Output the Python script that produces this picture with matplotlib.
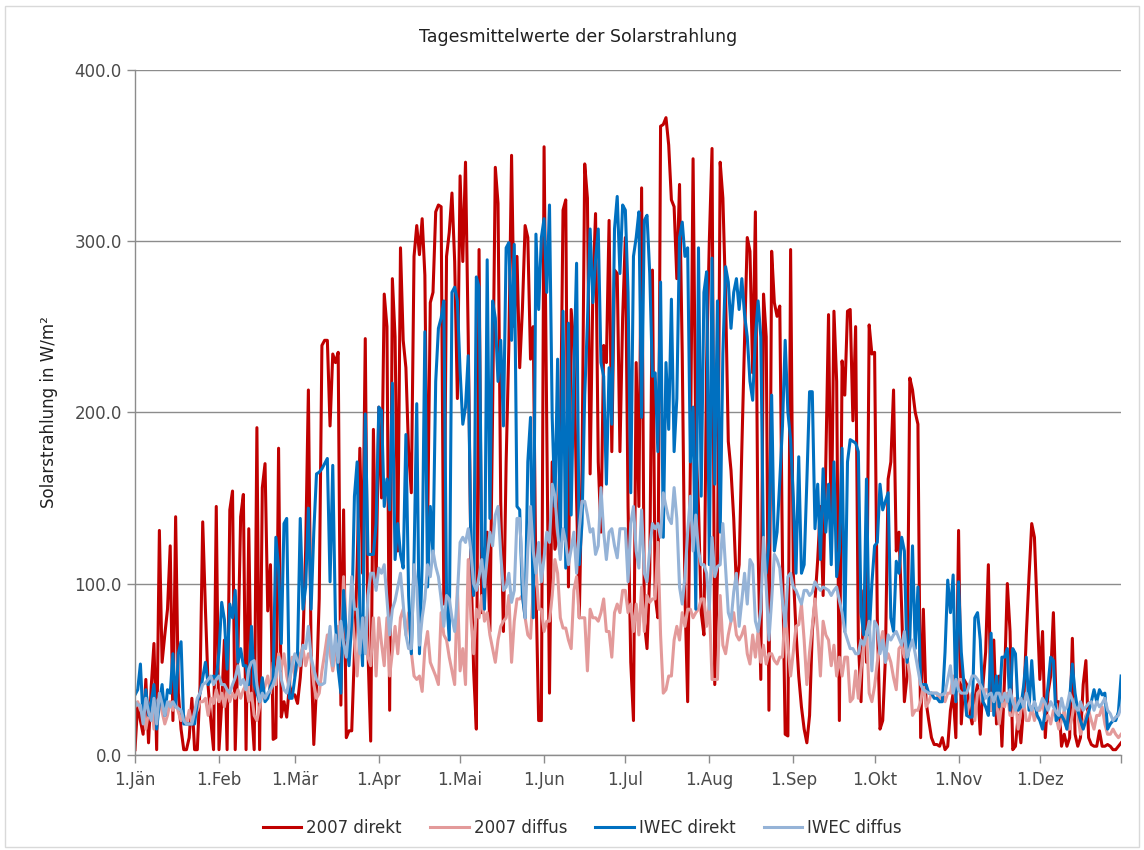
import numpy as np
import matplotlib
matplotlib.use('Agg')
import matplotlib.pyplot as plt
from matplotlib.patches import Rectangle

# daily means, W/m2 (Jan..Dec)
direkt_2007 = [
    3, 30, 20, 12, 44, 7, 40, 65, 3, 131, 54, 70, 85, 122, 20, 139, 36, 15, 3, 3, 10, 33, 3, 3, 40, 136, 85, 40, 20, 3, 145,
    3, 30, 67, 3, 143, 154, 3, 60, 139, 152, 3, 132, 28, 3, 191, 3, 156, 170, 84, 111, 9, 10, 179, 22, 31, 22, 41, 35,
    35, 30, 45, 67, 120, 213, 60, 6, 40, 91, 239, 242, 242, 192, 234, 229, 235, 29, 143, 10, 14, 14, 60, 110, 179, 106, 243, 60, 8, 190, 100,
    203, 150, 269, 250, 26, 278, 244, 119, 296, 242, 226, 177, 153, 291, 309, 292, 313, 280, 130, 264, 270, 317, 321, 320, 88, 291, 305, 328, 288, 208,
    338, 288, 346, 244, 114, 49, 15, 295, 83, 88, 130, 72, 200, 343, 322, 148, 72, 171, 239, 350, 250, 291, 226, 260, 309, 302, 231, 250, 98, 20, 20,
    355, 190, 36, 171, 120, 127, 177, 318, 324, 98, 260, 239, 150, 80, 166, 345, 325, 164, 270, 316, 171, 130, 239, 229, 312, 177, 283, 281, 177, 255,
    302, 145, 54, 20, 229, 145, 331, 78, 62, 106, 283, 93, 80, 367, 368, 372, 356, 324, 320, 278, 333, 234, 93, 31, 171, 348, 182, 145, 83, 70, 229,
    300, 354, 41, 106, 346, 325, 268, 183, 166, 138, 98, 111, 179, 242, 302, 294, 223, 317, 119, 44, 269, 244, 26, 294, 264, 256, 262, 114, 12, 11, 295,
    106, 72, 46, 28, 15, 7, 23, 72, 90, 114, 145, 93, 171, 257, 124, 259, 218, 20, 230, 210, 259, 260, 195, 250, 67, 31, 96, 54, 251, 234,
    235, 80, 15, 20, 57, 161, 171, 213, 119, 130, 85, 31, 46, 220, 213, 200, 193, 10, 85, 31, 20, 10, 6, 6, 5, 10, 3, 5, 26, 36, 10,
    131, 18, 44, 41, 26, 18, 33, 41, 12, 41, 60, 111, 26, 67, 18, 46, 5, 46, 100, 72, 3, 5, 23, 7, 28, 70, 104, 135, 127, 85,
    44, 72, 10, 36, 46, 83, 31, 31, 5, 12, 5, 10, 68, 12, 5, 10, 41, 55, 10, 6, 5, 5, 14, 5, 5, 6, 5, 3, 3, 5, 7,
]
diffus_2007 = [
    28, 31, 26, 26, 15, 25, 31, 15, 31, 33, 25, 18, 23, 31, 26, 31, 25, 20, 23, 18, 26, 18, 23, 26, 31, 31, 33, 23, 33, 30, 38,
    31, 36, 28, 38, 31, 36, 33, 38, 33, 38, 41, 31, 36, 23, 20, 28, 36, 40, 46, 36, 54, 41, 59, 50, 59, 46, 38, 57,
    46, 52, 59, 62, 52, 59, 57, 41, 33, 36, 49, 59, 70, 59, 49, 59, 75, 64, 104, 67, 75, 85, 67, 46, 72, 78, 80, 57, 52, 80, 46,
    80, 65, 52, 80, 46, 60, 75, 59, 80, 85, 70, 83, 60, 46, 44, 46, 37, 62, 72, 54, 50, 46, 41, 83, 70, 67, 57, 49, 41, 98,
    49, 62, 41, 114, 80, 59, 85, 80, 93, 78, 83, 70, 62, 54, 67, 75, 78, 80, 93, 54, 78, 91, 91, 93, 80, 70, 68, 96, 109, 85, 85,
    72, 78, 78, 93, 114, 106, 80, 74, 74, 67, 62, 96, 104, 80, 80, 80, 49, 85, 80, 80, 78, 83, 91, 72, 72, 57, 83, 88, 83, 96,
    96, 83, 88, 72, 88, 70, 98, 72, 93, 89, 91, 91, 124, 70, 36, 38, 46, 46, 67, 75, 67, 83, 75, 85, 85, 80, 83, 85, 91, 91, 75,
    88, 44, 44, 44, 93, 64, 59, 70, 78, 83, 70, 67, 70, 75, 59, 53, 70, 57, 72, 54, 64, 53, 59, 59, 55, 53, 57, 57, 85, 64, 46,
    60, 75, 76, 88, 67, 41, 60, 75, 91, 72, 46, 78, 70, 67, 52, 64, 46, 57, 46, 57, 57, 31, 33, 49, 33, 50, 64, 72, 36, 31,
    40, 54, 64, 72, 54, 59, 54, 45, 38, 62, 64, 57, 57, 46, 23, 26, 26, 31, 41, 28, 31, 36, 36, 36, 31, 36, 31, 36, 36, 46, 31,
    44, 44, 41, 23, 30, 36, 20, 36, 38, 31, 38, 38, 26, 36, 31, 18, 31, 28, 36, 23, 23, 33, 15, 26, 31, 20, 20, 28, 20, 26,
    26, 31, 20, 23, 18, 26, 22, 15, 20, 26, 15, 15, 23, 33, 23, 12, 18, 23, 26, 20, 15, 23, 23, 28, 18, 12, 12, 15, 12, 10, 12,
]
direkt_iwec = [
    35, 38, 53, 20, 38, 23, 31, 41, 15, 30, 41, 23, 38, 36, 59, 28, 59, 66, 18, 18, 18, 18, 18, 31, 36, 45, 54, 41, 44, 46, 44,
    60, 89, 79, 50, 88, 80, 96, 54, 62, 52, 52, 41, 75, 41, 36, 31, 45, 31, 33, 40, 44, 127, 109, 65, 135, 138, 33, 33,
    45, 59, 138, 85, 98, 144, 85, 130, 164, 165, 167, 170, 173, 101, 169, 78, 50, 36, 96, 70, 52, 78, 151, 171, 83, 52, 199, 117, 117, 117, 135,
    203, 201, 145, 161, 143, 217, 114, 135, 117, 109, 187, 93, 59, 114, 205, 59, 111, 247, 98, 145, 117, 218, 249, 255, 265, 93, 67, 270, 273, 265,
    224, 193, 203, 233, 119, 93, 279, 273, 122, 85, 289, 138, 265, 255, 218, 242, 192, 296, 299, 242, 298, 145, 143, 93, 80, 171, 197, 80, 304, 260, 302,
    313, 270, 321, 197, 145, 231, 117, 259, 109, 252, 140, 223, 287, 111, 135, 210, 252, 307, 264, 289, 307, 229, 221, 158, 226, 193, 307, 326, 281, 321,
    318, 270, 153, 291, 302, 317, 197, 312, 315, 281, 221, 223, 177, 276, 127, 229, 190, 266, 177, 208, 302, 311, 291, 296, 171, 203, 85, 296, 151, 270, 282,
    111, 290, 158, 265, 130, 234, 285, 276, 249, 270, 278, 260, 278, 257, 244, 218, 207, 244, 265, 244, 117, 106, 124, 210, 119, 130, 160, 192, 242, 200, 184,
    150, 106, 174, 106, 111, 160, 212, 212, 132, 158, 114, 167, 130, 158, 111, 171, 104, 119, 179, 72, 171, 184, 183, 182, 177, 83, 70, 161, 70, 100,
    122, 124, 158, 143, 148, 153, 80, 72, 113, 106, 127, 119, 54, 67, 122, 62, 98, 41, 41, 41, 36, 36, 33, 33, 31, 31, 60, 102, 83, 105, 31,
    101, 60, 41, 23, 22, 22, 80, 83, 67, 31, 28, 23, 71, 23, 46, 28, 57, 57, 62, 26, 62, 59, 26, 28, 40, 57, 26, 55, 31, 23,
    20, 15, 26, 40, 57, 55, 20, 22, 23, 20, 15, 33, 53, 36, 26, 20, 15, 20, 25, 31, 38, 31, 38, 35, 36, 15, 18, 20, 20, 25, 46,
]
diffus_iwec = [
    31, 29, 29, 18, 33, 25, 20, 33, 18, 36, 30, 23, 31, 28, 31, 28, 27, 26, 20, 18, 18, 18, 25, 33, 36, 41, 42, 44, 46, 41, 44,
    46, 41, 41, 38, 36, 41, 45, 52, 41, 44, 38, 50, 54, 55, 41, 31, 36, 33, 36, 38, 41, 46, 57, 44, 38, 36, 44, 52,
    59, 55, 52, 64, 62, 75, 57, 50, 44, 41, 41, 42, 60, 75, 52, 70, 54, 78, 65, 57, 75, 104, 85, 85, 59, 80, 59, 93, 106, 106, 96,
    109, 106, 111, 91, 70, 85, 90, 98, 106, 88, 70, 62, 62, 111, 98, 64, 80, 91, 111, 104, 119, 110, 104, 91, 75, 93, 91, 80, 72, 93,
    124, 127, 124, 132, 119, 100, 96, 104, 114, 98, 115, 130, 122, 140, 145, 117, 96, 98, 106, 89, 96, 138, 138, 106, 80, 120, 145, 119, 106, 124, 101,
    115, 130, 124, 158, 151, 130, 114, 132, 124, 111, 120, 130, 106, 132, 148, 148, 140, 130, 132, 117, 122, 156, 130, 114, 130, 132, 122, 115, 132, 132,
    132, 101, 135, 145, 119, 109, 143, 106, 101, 120, 135, 132, 135, 127, 153, 145, 138, 135, 156, 138, 98, 88, 104, 130, 151, 119, 140, 119, 111, 111, 106,
    85, 127, 104, 110, 111, 135, 109, 83, 78, 95, 106, 75, 90, 106, 88, 114, 111, 78, 72, 85, 127, 98, 67, 90, 117, 114, 109, 90, 75, 104, 106,
    98, 96, 92, 88, 96, 96, 93, 95, 101, 98, 96, 98, 97, 96, 93, 96, 98, 90, 83, 72, 67, 62, 62, 59, 59, 67, 64, 70, 78, 49,
    78, 75, 59, 67, 54, 70, 67, 70, 72, 68, 64, 72, 57, 62, 67, 59, 50, 41, 38, 37, 36, 36, 36, 36, 35, 35, 36, 44, 52, 36, 44,
    38, 36, 36, 36, 41, 46, 46, 44, 41, 38, 33, 35, 36, 31, 36, 36, 31, 36, 31, 38, 31, 26, 30, 33, 28, 36, 30, 26, 31, 26,
    28, 33, 30, 26, 31, 28, 25, 23, 33, 26, 28, 36, 32, 28, 26, 31, 26, 28, 30, 31, 26, 31, 28, 30, 33, 26, 24, 20, 22, 23, 28,
]

month_start = [0, 31, 59, 90, 120, 151, 181, 212, 243, 273, 304, 334]
month_labels = ['1.Jän', '1.Feb', '1.Mär', '1.Apr', '1.Mai', '1.Jun',
                '1.Jul', '1.Aug', '1.Sep', '1.Okt', '1.Nov', '1.Dez']

series = [
    ('2007 direkt', direkt_2007, '#C00000'),
    ('2007 diffus', diffus_2007, '#E39A9A'),
    ('IWEC direkt', direkt_iwec, '#0070C0'),
    ('IWEC diffus', diffus_iwec, '#95B3D7'),
]
for name, vals, c in series:
    assert len(vals) == 365, (name, len(vals))

days = np.arange(365)

plt.rcParams['font.family'] = ['DejaVu Sans']

fig = plt.figure(figsize=(11.44, 8.5), dpi=100)
fig.patches.append(Rectangle((0.004, 0.004), 0.992, 0.989, transform=fig.transFigure,
                             fill=False, edgecolor='#d9d9d9', lw=1))
ax = fig.add_axes([0.118, 0.112, 0.862, 0.806])

for name, vals, c in series:
    ax.plot(days, vals, color=c, lw=2.2, label=name, solid_joinstyle='round')

ax.set_xlim(0, 364)
ax.set_ylim(0, 400)
ax.set_yticks([0, 100, 200, 300, 400])
ax.set_yticklabels(['%.1f' % v for v in [0, 100, 200, 300, 400]])
ax.set_xticks(month_start + [364])
ax.set_xticklabels(month_labels + [''])
ax.yaxis.grid(True, color='#8c8c8c', lw=1)
ax.set_axisbelow(True)

for s in ['top', 'right']:
    ax.spines[s].set_visible(False)
for s in ['left', 'bottom']:
    ax.spines[s].set_color('#8c8c8c')
    ax.spines[s].set_linewidth(1)
ax.tick_params(axis='both', colors='#8c8c8c', length=6, width=1, direction='out',
               labelsize=12, labelcolor='#4a4a4a')
ax.tick_params(axis='x', pad=6)

ax.set_ylabel('Solarstrahlung in W/m²', fontsize=12, color='#202020', labelpad=12)
fig.text(0.505, 0.957, 'Tagesmittelwerte der Solarstrahlung', ha='center', va='center',
         fontsize=12.5, color='#202020')

leg = fig.legend(loc='center', bbox_to_anchor=(0.509, 0.026), ncol=4, frameon=False,
                 fontsize=12, handlelength=2.3, columnspacing=1.7, handletextpad=0.3)
for h in leg.get_lines():
    h.set_linewidth(2.2)
for t in leg.get_texts():
    t.set_color('#303030')

fig.savefig('out.png', dpi=100)
